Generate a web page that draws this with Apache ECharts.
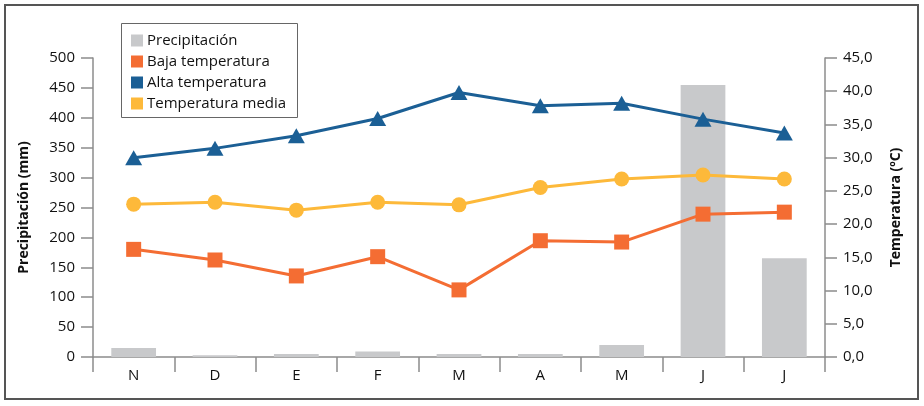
<!DOCTYPE html>
<html>
<head>
<meta charset="utf-8">
<script src="https://cdn.jsdelivr.net/npm/echarts@6/dist/echarts.min.js"></script>
<style>
html,body{margin:0;padding:0;background:#fff;}
#c{width:924px;height:406px;}
</style>
</head>
<body>
<div id="c"></div>
<script>
var months = ['N','D','E','F','M','A','M','J','J'];
var precipitacion = [15, 3, 5, 9, 5, 5, 20, 455, 165];
var bajaTemp = [16.2, 14.6, 12.2, 15.1, 10.1, 17.5, 17.3, 21.5, 21.8];
var altaTemp = [30.0, 31.4, 33.3, 35.9, 39.8, 37.8, 38.2, 35.8, 33.7];
var mediaTemp = [23.0, 23.3, 22.1, 23.3, 22.9, 25.5, 26.8, 27.4, 26.8];
var legendNames = ['Precipitación','Baja temperatura','Alta temperatura','Temperatura media'];

var FONT = '"Open Sans", "Noto Sans", sans-serif';
var axisGray = '#8c8c8c';
var chart = echarts.init(document.getElementById('c'), null, {renderer:'canvas'});
var option = {
  animation: false,
  backgroundColor: '#fff',
  textStyle: {fontFamily: FONT},
  graphic: [
    {type:'rect', shape:{x:5, y:5, width:913, height:394}, style:{fill:'none', stroke:'#555', lineWidth:2}, z:100},
    {type:'rect', shape:{x:121.5, y:23.5, width:176, height:94}, style:{fill:'#fff', stroke:'#666', lineWidth:1}, z:1}
  ],
  legend: {
    orient: 'vertical',
    left: 126, top: 28,
    itemWidth: 12, itemHeight: 12, itemGap: 6,
    icon: 'rect',
    data: legendNames,
    textStyle: {fontFamily: FONT, fontSize: 15, color: '#111', padding:[0,0,0,-1]},
    z: 10
  },
  grid: {left: 93, right: 99, top: 58, bottom: 49, containLabel: false},
  xAxis: {
    type: 'category',
    data: months,
    boundaryGap: true,
    axisLine: {show: true, lineStyle: {color: axisGray, width: 1.5}},
    axisTick: {show: true, length: 15, lineStyle: {color: axisGray, width: 1.5}},
    axisLabel: {fontFamily: FONT, fontSize: 15, color: '#111', margin: 11},
    splitLine: {show: false}
  },
  yAxis: [
    {
      type: 'value', min: 0, max: 500, interval: 50,
      name: 'Precipitación (mm)', nameLocation: 'middle', nameGap: 62, nameRotate: 90,
      nameTextStyle: {fontFamily: FONT, fontSize: 14, fontWeight: 'bold', color: '#111'},
      axisLine: {show: true, lineStyle: {color: axisGray, width: 1.5}},
      axisTick: {show: true, length: 12, lineStyle: {color: axisGray, width: 1.5}},
      axisLabel: {fontFamily: FONT, fontSize: 15, color: '#111', margin: 18},
      splitLine: {show: false}
    },
    {
      type: 'value', min: 0, max: 45, interval: 5, position: 'right',
      name: 'Temperatura (ºC)', nameLocation: 'middle', nameGap: 64, nameRotate: 90,
      nameTextStyle: {fontFamily: FONT, fontSize: 14, fontWeight: 'bold', color: '#111'},
      axisLine: {show: true, lineStyle: {color: axisGray, width: 1.5}},
      axisTick: {show: true, length: 12, lineStyle: {color: axisGray, width: 1.5}},
      axisLabel: {fontFamily: FONT, fontSize: 15, color: '#111', margin: 18,
        formatter: function(v){ return v.toFixed(1).replace('.', ','); }},
      splitLine: {show: false}
    }
  ],
  series: [
    {
      name: legendNames[0], type: 'bar', yAxisIndex: 0, data: precipitacion,
      barWidth: '55%', itemStyle: {color: '#c8c9cb'}, z: 1
    },
    {
      name: legendNames[1], type: 'line', yAxisIndex: 1, data: bajaTemp,
      symbol: 'rect', symbolSize: 15, lineStyle: {color: '#f46d33', width: 3},
      itemStyle: {color: '#f46d33'}, z: 3
    },
    {
      name: legendNames[2], type: 'line', yAxisIndex: 1, data: altaTemp,
      symbol: 'triangle', symbolSize: [17, 15], lineStyle: {color: '#1b5f95', width: 3},
      itemStyle: {color: '#1b5f95'}, z: 3
    },
    {
      name: legendNames[3], type: 'line', yAxisIndex: 1, data: mediaTemp,
      symbol: 'circle', symbolSize: 15, lineStyle: {color: '#fdb93a', width: 3},
      itemStyle: {color: '#fdb93a'}, z: 3
    }
  ]
};
chart.setOption(option);
</script>
</body>
</html>
